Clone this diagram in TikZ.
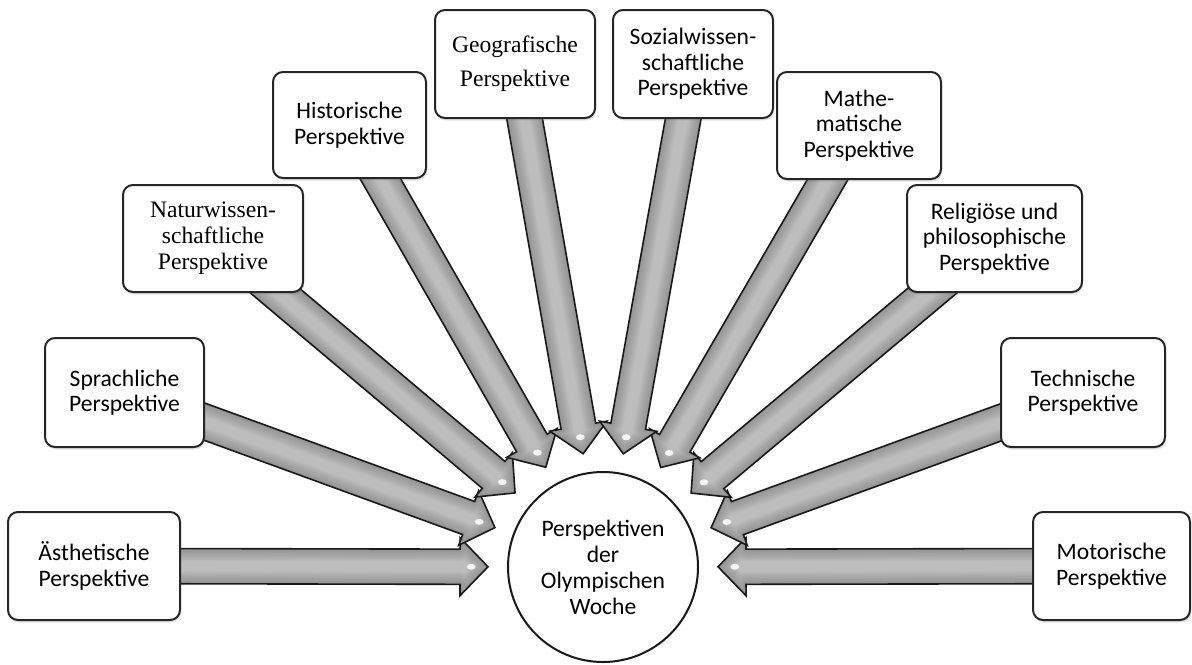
\documentclass[tikz,border=0pt]{standalone}
\usepackage{fontspec}
\setmainfont{Carlito}
\newfontfamily\serifbody{Liberation Serif}
\usetikzlibrary{calc,shadows}
\pgfdeclarelayer{bg}
\pgfsetlayers{bg,main}

\tikzset{
  box/.style={draw=black!85, line width=1pt, rounded corners=5pt, fill=white,
    align=center, inner sep=0pt,
    font=\fontsize{11.8}{12.8}\selectfont,
    drop shadow={shadow xshift=0.6pt, shadow yshift=-1.3pt, opacity=0.22}},
  serifbox/.style={box, font=\serifbody\fontsize{11.8}{13}\selectfont},
  hub/.style={circle, draw=black!90, line width=1pt, fill=white,
    minimum size=95pt, inner sep=0pt, align=center,
    font=\fontsize{11.8}{13}\selectfont},
  arrowline/.style={draw=black!90, line width=0.8pt, line join=miter},
  glow/.style={black, opacity=0.025, line join=round},
}

\newcommand\arrowshape[1]{(#1s1)--(#1a1)--(#1b1)--(#1t)--(#1b2)--(#1a2)--(#1s2)--cycle}
\newcommand\blockarrow[2]{%
  \coordinate (#2t) at ($(ctr)!57.5pt!(#1.center)$);
  \coordinate (#2h) at ($(ctr)!71.5pt!(#1.center)$);
  \coordinate (#2s1) at ($(#1.center)!8.8pt!90:(ctr)$);
  \coordinate (#2s2) at ($(#1.center)!8.8pt!-90:(ctr)$);
  \coordinate (#2a1) at ($(#2h)!8.8pt!90:(ctr)$);
  \coordinate (#2a2) at ($(#2h)!8.8pt!-90:(ctr)$);
  \coordinate (#2b1) at ($(#2h)!14.5pt!90:(ctr)$);
  \coordinate (#2b2) at ($(#2h)!14.5pt!-90:(ctr)$);
  \begin{scope}
    \clip \arrowshape{#2};
    \fill[black!26] \arrowshape{#2};
    \foreach \lw in {1.4,2.8,...,14} {\draw[glow, line width=\lw pt] \arrowshape{#2};}
    \fill[white, opacity=.85] ($(#2h)!0.4!(#2t)$) ellipse (2.2pt and 1.5pt);
  \end{scope}
  \draw[arrowline] \arrowshape{#2};
}

\begin{document}
\begin{tikzpicture}[x=0.5pt, y=-0.5pt]
  \useasboundingbox (0,0) rectangle (1192,664);

  \node[hub] (ctr) at (603,567) {Perspektiven\\der\\Olympischen\\Woche};

  \node[box, minimum width=86pt, minimum height=54pt] (aes) at (94,566) {Ästhetische\\Perspektive};
  \node[box, minimum width=79.5pt, minimum height=54.5pt] (spr) at (124.5,392.5) {Sprachliche\\Perspektive};
  \node[serifbox, minimum width=90pt, minimum height=53.5pt] (nat) at (213,238.5) {Naturwissen-\\schaftliche\\Perspektive};
  \node[box, minimum width=76.5pt, minimum height=53pt] (his) at (349.5,125) {Historische\\Perspektive};
  \node[serifbox, font=\serifbody\fontsize{11.8}{17}\selectfont, minimum width=80pt, minimum height=54pt] (geo) at (515,64) {Geografische\\Perspektive};
  \node[box, minimum width=80pt, minimum height=54pt] (soz) at (693,64) {Sozialwissen-\\schaftliche\\Perspektive};
  \node[box, minimum width=82pt, minimum height=53.5pt] (mat) at (859,125.5) {Mathe-\\matische\\Perspektive};
  \node[box, minimum width=87.5pt, minimum height=53.5pt] (rel) at (994.5,238.5) {Religiöse und\\philosophische\\Perspektive};
  \node[box, minimum width=82pt, minimum height=54.5pt] (tec) at (1083,392.5) {Technische\\Perspektive};
  \node[box, minimum width=78.5pt, minimum height=54pt] (mot) at (1111.5,566) {Motorische\\Perspektive};

  \begin{pgfonlayer}{bg}
    \blockarrow{aes}{A}
    \blockarrow{spr}{B}
    \blockarrow{nat}{C}
    \blockarrow{his}{D}
    \blockarrow{geo}{E}
    \blockarrow{mot}{J}
    \blockarrow{tec}{I}
    \blockarrow{rel}{H}
    \blockarrow{mat}{G}
    \blockarrow{soz}{F}
  \end{pgfonlayer}
\end{tikzpicture}
\end{document}
